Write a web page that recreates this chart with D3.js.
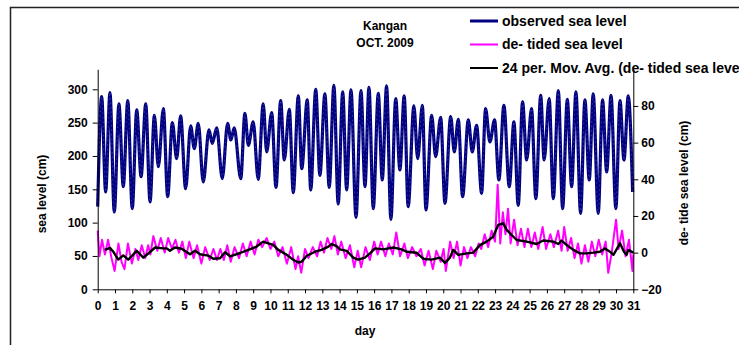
<!DOCTYPE html>
<html>
<head>
<meta charset="utf-8">
<script src="https://cdn.jsdelivr.net/npm/d3@7"></script>
<style>
  body { margin: 0; background: #fff; }
  text { font-family: "Liberation Sans", Arial, sans-serif; font-weight: bold; fill: #000; }
</style>
</head>
<body>
<div id="chart"></div>
<script>
// Observed sea level (left axis, cm): turning points.
const obsDays = [0.00,0.23,0.46,0.71,0.96,1.23,1.48,1.74,2.00,2.26,2.51,2.78,3.03,3.28,3.51,3.80,4.05,4.32,4.57,4.80,
  5.09,5.38,5.59,5.82,6.11,6.44,6.63,6.89,7.21,7.52,7.71,7.90,8.28,8.52,8.72,9.00,9.29,9.58,9.78,10.07,
  10.32,10.59,10.80,11.09,11.32,11.61,11.81,12.13,12.33,12.62,12.86,13.15,13.40,13.67,13.92,14.18,14.41,14.66,14.95,15.24,
  15.47,15.70,15.95,16.24,16.47,16.72,16.97,17.25,17.49,17.74,17.97,18.30,18.52,18.79,19.00,19.33,19.56,19.85,20.10,20.43,
  20.64,20.87,21.12,21.45,21.68,21.93,22.22,22.45,22.70,22.97,23.22,23.51,23.82,24.09,24.34,24.59,24.83,25.11,25.36,25.64,
  25.84,26.13,26.37,26.66,26.91,27.18,27.43,27.68,27.95,28.20,28.45,28.68,28.97,29.22,29.46,29.71,29.99,30.23,30.46,30.71,30.96];
const obsCm = [124,289,146,295,116,278,154,283,121,269,169,278,131,261,184,271,139,250,196,260,
  151,245,211,249,161,239,219,242,166,249,224,242,166,264,216,251,165,278,206,265,
  153,283,194,270,145,290,181,284,149,300,171,293,153,306,128,296,149,299,108,298,
  154,303,121,294,164,305,105,286,179,290,124,275,196,276,119,261,199,258,129,259,
  206,255,139,254,206,246,144,271,221,254,164,276,154,251,126,281,194,271,136,291,
  194,286,136,298,121,285,154,296,114,284,164,293,114,284,176,291,121,283,194,290,146];

// De-tided sea level (right axis, cm).
const pinkDays = [0.00,0.10,0.25,0.42,0.60,0.80,0.98,1.20,1.38,1.55,1.75,1.98,2.18,2.35,2.55,2.75,2.92,3.05,3.22,3.45,
  3.65,3.88,4.08,4.30,4.50,4.70,4.90,5.10,5.30,5.55,5.75,6.00,6.22,6.48,6.70,6.90,7.10,7.30,7.50,7.70,
  7.92,8.18,8.40,8.62,8.85,9.08,9.30,9.52,9.78,10.00,10.22,10.45,10.70,10.95,11.20,11.45,11.60,11.78,12.00,12.20,
  12.45,12.70,12.90,13.10,13.30,13.52,13.70,13.90,14.10,14.35,14.60,14.85,15.05,15.25,15.50,15.75,16.00,16.20,16.40,16.65,
  16.85,17.08,17.28,17.50,17.75,17.95,18.20,18.45,18.70,18.92,19.15,19.40,19.60,19.85,20.02,20.15,20.40,20.60,20.80,21.00,
  21.20,21.40,21.60,21.85,22.05,22.20,22.40,22.60,22.80,23.00,23.15,23.30,23.45,23.60,23.75,23.90,24.10,24.30,24.50,24.70,
  24.90,25.10,25.30,25.50,25.75,25.95,26.20,26.40,26.65,26.85,27.00,27.20,27.40,27.60,27.80,28.00,28.20,28.40,28.60,28.80,
  29.00,29.20,29.40,29.55,29.75,30.00,30.15,30.35,30.55,30.75,30.95,31.00];
const pinkCm = [12,-2,7,-1,7,-3,-10,5,-5,-9,5,-6,2,-4,4,-3,4,-1,9,1,
  8,0,8,2,7,0,6,-3,6,-3,4,-6,3,-4,2,-4,2,-4,4,-5,
  3,-3,5,-2,6,-1,7,3,8,2,6,-2,3,-6,3,-9,-2,-11,2,-3,
  3,-2,6,0,8,2,9,-1,6,-3,4,-8,1,-8,3,-4,6,-1,6,-2,
  5,-1,11,-2,5,-3,3,-2,2,-7,1,-9,1,-5,2,-10,6,-3,6,-7,
  3,-3,3,-2,5,2,10,3,12,6,37,5,22,10,24,5,18,4,13,3,
  13,3,11,2,14,2,10,3,12,1,14,1,8,-3,5,-6,4,-5,6,-2,
  7,-1,6,-11,0,18,2,12,-2,7,-10,-1];

// 24 per. moving average of the de-tided level (right axis, cm).
const avgDays = [0.42,0.71,0.90,1.19,1.48,1.77,2.26,2.64,2.93,3.32,3.80,4.00,4.18,4.47,4.86,5.34,5.63,5.92,6.40,6.69,
  7.08,7.37,7.66,8.24,8.72,9.20,9.58,9.87,10.16,10.45,10.94,11.32,11.61,11.81,12.10,12.58,12.96,13.35,13.54,13.83,
  14.02,14.41,14.79,15.08,15.47,15.76,16.05,16.53,17.11,17.59,17.88,18.46,18.84,19.33,19.81,20.10,20.39,20.58,20.87,21.35,
  21.74,22.12,22.51,22.89,23.18,23.47,23.67,23.96,24.25,24.83,25.40,25.79,26.37,26.66,26.85,27.14,27.53,27.92,28.30,28.69,
  29.07,29.36,29.65,29.85,30.23,30.46,30.61,30.71,31.00];
const avgCm = [1.5,2.6,0.5,-3.8,-1.5,-3.8,1.0,-2.7,-0.5,2.8,2.3,2.3,1.0,2.8,2.1,-0.9,1.0,-0.9,-1.6,-3.3,
  -3.1,0.2,-2.0,-0.2,1.5,3.3,6.0,5.1,4.2,1.5,-1.2,-3.9,-5.4,-4.9,-1.7,0.5,1.5,3.3,4.7,3.6,
  1.8,1.0,-2.7,-3.8,-2.7,-0.4,2.3,1.8,2.8,1.8,0.5,-0.1,-3.3,-3.8,-2.7,-5.6,-2.7,1.5,-1.2,-0.4,
  0.0,4.1,6.0,8.7,15.1,16.0,12.4,9.6,6.9,6.0,4.7,6.6,6.0,4.7,6.6,4.2,1.5,-0.4,-0.4,0.0,
  0.5,2.3,0.5,-1.2,5.1,0.5,-1.2,1.5,0.0];

const dayTicks = d3.range(0, 32);
const leftTicks = [0, 50, 100, 150, 200, 250, 300];
const rightTicks = [-20, 0, 20, 40, 60, 80];
const legendLabels = ['observed sea level', 'de- tided sea level', '24 per. Mov. Avg. (de- tided sea level)'];
const legendColors = ['#000080', '#ff00ff', '#000000'];

const width = 739;
const height = 345;

const svg = d3.select('#chart')
  .append('svg')
  .attr('width', width)
  .attr('height', height);

// Chart border (runs off the right and bottom of the picture).
svg.append('rect')
  .attr('x', 10.5).attr('y', 7.5)
  .attr('width', 900).attr('height', 500)
  .attr('fill', 'none')
  .attr('stroke', '#222')
  .attr('stroke-width', 1.5);

const x = d3.scaleLinear().domain([0, 31]).range([97.7, 633.3]);
const yL = d3.scaleLinear().domain([0, 330]).range([289.3, 69.3]);
const yR = d3.scaleLinear().domain([-20, 100]).range([289.3, 69.3]);

// Series.
const obsLine = d3.line()
  .x((d, i) => x(obsDays[i]))
  .y((d) => yL(d))
  .curve(d3.curveMonotoneX);

svg.append('path')
  .attr('d', obsLine(obsCm))
  .attr('fill', 'none')
  .attr('stroke', '#000080')
  .attr('stroke-width', 3.2);

svg.append('path')
  .attr('d', obsLine(obsCm))
  .attr('fill', 'none')
  .attr('stroke', '#9097d4')
  .attr('stroke-width', 0.5)
  .attr('stroke-opacity', 0.7)
  .attr('stroke-dasharray', '1.5,3');

const pinkLine = d3.line()
  .x((d, i) => x(pinkDays[i]))
  .y((d) => yR(d));

svg.append('path')
  .attr('d', pinkLine(pinkCm))
  .attr('fill', 'none')
  .attr('stroke', '#ff00ff')
  .attr('stroke-width', 2)
  .attr('stroke-linejoin', 'round');

const avgLine = d3.line()
  .x((d, i) => x(avgDays[i]))
  .y((d) => yR(d));

svg.append('path')
  .attr('d', avgLine(avgCm))
  .attr('fill', 'none')
  .attr('stroke', '#000')
  .attr('stroke-width', 2.4)
  .attr('stroke-linejoin', 'round');

// Axes.
function styleAxis(g) {
  g.selectAll('text')
    .attr('font-size', 12)
    .attr('font-family', '"Liberation Sans", Arial, sans-serif')
    .attr('font-weight', 'bold');
  g.selectAll('line, path').attr('stroke', '#000');
}

svg.append('g')
  .attr('transform', 'translate(0,289.3)')
  .call(d3.axisBottom(x).tickValues(dayTicks).tickFormat(d3.format('d')).tickSize(4).tickSizeOuter(0).tickPadding(8))
  .call(styleAxis);

svg.append('g')
  .attr('transform', 'translate(97.7,0)')
  .call(d3.axisLeft(yL).tickValues(leftTicks).tickSize(5).tickSizeOuter(0).tickPadding(5))
  .call(styleAxis);

svg.append('g')
  .attr('transform', 'translate(633.3,0)')
  .call(d3.axisRight(yR).tickValues(rightTicks).tickSize(5).tickSizeOuter(0).tickPadding(3))
  .call(styleAxis);

// Axis titles.
svg.append('text')
  .attr('x', 365).attr('y', 335)
  .attr('text-anchor', 'middle')
  .attr('font-size', 12)
  .text('day');

svg.append('text')
  .attr('transform', 'translate(46,194) rotate(-90)')
  .attr('text-anchor', 'middle')
  .attr('font-size', 12)
  .text('sea level (cm)');

svg.append('text')
  .attr('transform', 'translate(688,183) rotate(-90)')
  .attr('text-anchor', 'middle')
  .attr('font-size', 12)
  .text('de- tide sea level (cm)');

// Title.
svg.append('text')
  .attr('x', 385).attr('y', 30)
  .attr('text-anchor', 'middle')
  .attr('font-size', 12)
  .text('Kangan');

svg.append('text')
  .attr('x', 385).attr('y', 47)
  .attr('text-anchor', 'middle')
  .attr('font-size', 12)
  .text('OCT. 2009');

// Legend.
const legend = svg.append('g').attr('id', 'legend');
legend.selectAll('line')
  .data(legendLabels)
  .enter()
  .append('line')
  .attr('x1', 470).attr('x2', 498)
  .attr('y1', (d, i) => 21 + i * 23.5)
  .attr('y2', (d, i) => 21 + i * 23.5)
  .attr('stroke', (d, i) => legendColors[i])
  .attr('stroke-width', (d, i) => i === 0 ? 3 : 2);

legend.selectAll('text')
  .data(legendLabels)
  .enter()
  .append('text')
  .attr('x', 502)
  .attr('y', (d, i) => 21 + i * 23.5)
  .attr('dy', '0.35em')
  .attr('font-size', 14)
  .text((d) => d);
</script>
</body>
</html>
